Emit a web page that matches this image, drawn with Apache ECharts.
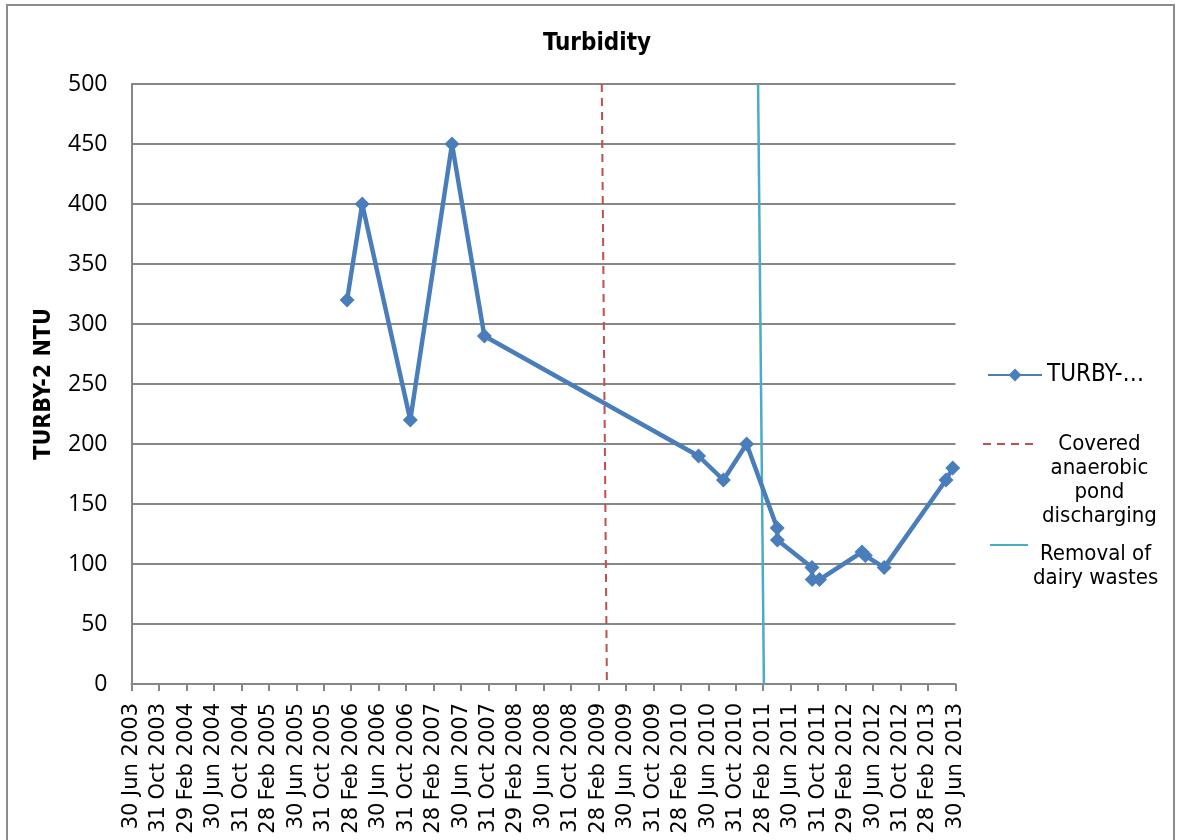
<!DOCTYPE html>
<html>
<head>
<meta charset="utf-8">
<title>Turbidity</title>
<script src="https://cdn.jsdelivr.net/npm/echarts@6/dist/echarts.min.js"></script>
<style>
  html, body { margin: 0; padding: 0; background: #fff; }
  #chart { width: 1181px; height: 840px; }
</style>
</head>
<body>
<div id="chart"></div>
<script>
// sample dates and turbidity readings (NTU)
const sampleDates = [
  '2006-02-11', '2006-04-18', '2006-11-18', '2007-05-21', '2007-10-12',
  '2010-05-18', '2010-09-06', '2010-12-18', '2011-05-01', '2011-05-02',
  '2011-10-03', '2011-10-04', '2011-11-06', '2012-05-12', '2012-05-27',
  '2012-08-19', '2013-05-19', '2013-06-18'
]
const turbidity = [
  320, 400, 220, 450, 290,
  190, 170, 200, 130, 120,
  97, 87, 87, 110, 107,
  97, 170, 180
]

// event markers: drawn from top of axis (date, value) to bottom
const pondDates = ['2009-03-15', '2009-04-07']
const pondValues = [500, 0]
const dairyDates = ['2011-02-07', '2011-03-03']
const dairyValues = [500, 0]

const yTicks = [0, 500, 50]
const MON = ['Jan', 'Feb', 'Mar', 'Apr', 'May', 'Jun', 'Jul', 'Aug', 'Sep', 'Oct', 'Nov', 'Dec']

// months after 30 Jun 2003 (axis unit)
const monthIndex = (s) => {
  const [y, m, d] = s.split('-').map(Number)
  const dim = new Date(y, m, 0).getDate()
  return (y - 2003) * 12 + (m - 6) - 1 + d / dim
}

const tickLabel = (v) => {
  const t = new Date(2003, 6 + Math.round(v), 0)
  return `${t.getDate()} ${MON[t.getMonth()]} ${t.getFullYear()}`
}

const pairs = (dates, vals) => dates.map((d, i) => [monthIndex(d), vals[i]])

const narrow = "'Liberation Sans Narrow', 'DejaVu Sans Condensed', 'Liberation Sans', sans-serif"
const grey = '#878787'

const chart = echarts.init(document.getElementById('chart'))

const option = {
  animation: false,
  backgroundColor: '#fff',
  title: {
    text: 'Turbidity',
    left: 592,
    textAlign: 'center',
    top: 27,
    textStyle: { fontFamily: narrow, fontSize: 24, fontWeight: 'bold', color: '#000' }
  },
  graphic: [{
    type: 'rect',
    silent: true,
    shape: { x: 7, y: 5, width: 1167, height: 860 },
    style: { fill: 'none', stroke: '#8c8c8c', lineWidth: 2 }
  }],
  grid: { left: 131.5, right: 225.5, top: 84, bottom: 156 },
  xAxis: {
    type: 'value',
    min: 0,
    max: 120,
    interval: 4,
    axisLine: { show: true, lineStyle: { color: grey, width: 2 } },
    axisTick: { show: true, length: 7, lineStyle: { color: grey, width: 2 } },
    splitLine: { show: false },
    axisLabel: {
      rotate: 90,
      margin: 19,
      formatter: tickLabel,
      fontFamily: 'DejaVu Sans',
      fontSize: 21,
      color: '#000'
    }
  },
  yAxis: {
    type: 'value',
    min: yTicks[0],
    max: yTicks[1],
    interval: yTicks[2],
    name: 'TURBY-2 NTU',
    nameLocation: 'middle',
    nameGap: 76,
    nameTextStyle: { fontFamily: narrow, fontSize: 23, fontWeight: 'bold', color: '#000' },
    axisLine: { show: true, lineStyle: { color: grey, width: 2 } },
    axisTick: { show: false },
    splitLine: { lineStyle: { color: grey, width: 2 } },
    axisLabel: { margin: 24, fontFamily: "'Open Sans', sans-serif", fontSize: 23, color: '#000' }
  },
  legend: [
    {
      data: ['TURBY-2 NTU'],
      left: 982,
      top: 358,
      itemWidth: 54,
      itemHeight: 16,
      itemGap: 6,
      formatter: () => 'TURBY-…',
      textStyle: { fontFamily: narrow, fontSize: 24, color: '#000' }
    },
    {
      data: ['Covered anaerobic pond discharging'],
      left: 977,
      top: 355,
      itemWidth: 54,
      itemHeight: 14,
      itemStyle: { color: 'transparent', borderWidth: 0 },
      formatter: () => '{a|Covered}\n{a|anaerobic}\n{a|pond}\n{a|discharging}',
      textStyle: {
        fontFamily: narrow, fontSize: 22, color: '#000', lineHeight: 24,
        padding: [72, 0, 0, 0],
        rich: { a: { align: 'center', fontFamily: narrow, fontSize: 22, lineHeight: 24, color: '#000' } }
      }
    },
    {
      data: ['Removal of dairy wastes'],
      left: 984,
      top: 495,
      itemWidth: 38,
      itemHeight: 14,
      itemStyle: { color: 'transparent', borderWidth: 0 },
      formatter: () => '{a|Removal of}\n{a|dairy wastes}',
      textStyle: {
        fontFamily: narrow, fontSize: 22, color: '#000', lineHeight: 24,
        padding: [42, 0, 0, 0],
        rich: { a: { align: 'center', fontFamily: narrow, fontSize: 22, lineHeight: 24, color: '#000' } }
      }
    }
  ],
  series: [
    {
      name: 'TURBY-2 NTU',
      type: 'line',
      data: pairs(sampleDates, turbidity),
      symbol: 'diamond',
      symbolSize: 15,
      itemStyle: { color: '#4a7ebb' },
      lineStyle: { color: '#4a7ebb', width: 4.5 },
      z: 5
    },
    {
      name: 'Covered anaerobic pond discharging',
      type: 'line',
      data: pairs(pondDates, pondValues),
      symbol: 'none',
      itemStyle: { color: '#c0504d' },
      lineStyle: { color: '#c0504d', width: 2, type: [8, 6] }
    },
    {
      name: 'Removal of dairy wastes',
      type: 'line',
      data: pairs(dairyDates, dairyValues),
      symbol: 'none',
      itemStyle: { color: '#4bacc6' },
      lineStyle: { color: '#4bacc6', width: 2.5 }
    }
  ]
}

chart.setOption(option)

window.addEventListener('resize', () => chart.resize())
</script>
</body>
</html>
